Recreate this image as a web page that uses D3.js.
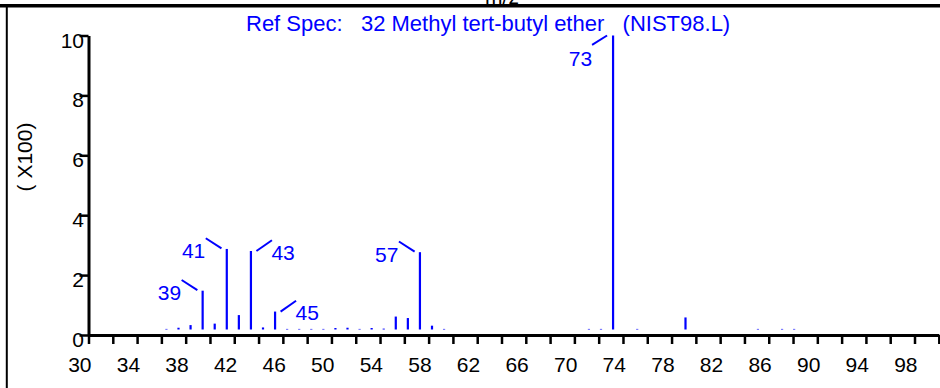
<!DOCTYPE html>
<html lang="en">
<head>
  <meta charset="utf-8"/>
  <title>Ref Spec: 32 Methyl tert-butyl ether</title>
  <script src="https://cdn.jsdelivr.net/npm/d3@7/dist/d3.min.js"></script>
  <style>
    html, body { margin:0; padding:0; background:#fff; overflow:hidden; }
    svg { display:block; font-family:"Liberation Sans", Arial, sans-serif; }
    .axis path, .axis line { stroke:#000; }
    .axis text { fill:#000; font-size:21px; font-family:"Liberation Sans", Arial, sans-serif; }
  </style>
</head>
<body>
<svg width="940" height="388"></svg>
<script>
  // spectrum data (m/z, abundance out of 1000)
  const mzValues   = [36, 37, 38, 39, 40, 41, 42, 43, 44, 45, 46, 47, 48, 49, 50, 51,
                      52, 53, 54, 55, 56, 57, 58, 59, 71, 72, 73, 75, 79, 85, 87, 88];
  const abundances = [2, 6, 15, 132, 20, 274, 49, 267, 7, 61, 2, 2, 2, 2, 5, 6,
                      2, 5, 3, 44, 39, 263, 13, 2, 2, 2, 1000, 2, 41, 2, 2, 2];

  // labelled peaks and where their label sits
  const peakLabels = [39, 41, 43, 45, 57, 73];
  const labelSides = ["left", "left", "right", "right", "left", "below"];

  // axis ticks
  const xTicks      = d3.range(30, 101, 2);
  const xTickLabels = d3.range(30, 99, 4);
  const yTicks      = [0, 200, 400, 600, 800, 1000];
  const yTickLabels = ["0", "2", "4", "6", "8", "10"];

  const title  = "Ref Spec:   32 Methyl tert-butyl ether   (NIST98.L)";
  const yTitle = "( X100)";
  const blue   = "#0000ff";

  const svg = d3.select("svg");

  const x    = d3.scaleLinear().domain([30, 100]).range([88.5, 938.8]);
  const y    = d3.scaleLinear().domain([0, 1000]).range([335, 35.5]);
  // sticks are drawn slightly right of / above the axis origin
  const xBar = d3.scaleLinear().domain([30, 100]).range([94, 939]);
  const yBar = d3.scaleLinear().domain([0, 1000]).range([329.5, 35.5]);

  // frame: cut-off "m/z" header, thick top rule, left border
  svg.append("text")
    .attr("x", 502).attr("y", 4)
    .attr("text-anchor", "middle")
    .style("font-size", "21px")
    .text("m/z");
  svg.append("line")
    .attr("x1", 0).attr("x2", 940).attr("y1", 5.7).attr("y2", 5.7)
    .attr("stroke", "#000").attr("stroke-width", 3.5);
  svg.append("line")
    .attr("x1", 6.8).attr("x2", 6.8).attr("y1", 5).attr("y2", 388)
    .attr("stroke", "#000").attr("stroke-width", 2);

  // title
  svg.append("text")
    .attr("x", 246).attr("y", 30.5)
    .attr("fill", blue)
    .style("font-size", "22px")
    .style("white-space", "pre")
    .text(title);

  // y axis
  const yAxis = svg.append("g")
    .attr("class", "axis")
    .attr("transform", `translate(${x(30)},0)`)
    .call(d3.axisLeft(y).tickValues(yTicks).tickSize(9).tickSizeOuter(0)
      .tickFormat((d, i) => yTickLabels[i]));
  yAxis.select(".domain").attr("stroke-width", 3);
  yAxis.selectAll(".tick line").attr("stroke-width", 2.5);
  yAxis.selectAll(".tick text")
    .attr("x", -4.5).attr("dy", 0).attr("y", 11.5)
    .attr("text-anchor", "end");

  // x axis
  const xAxis = svg.append("g")
    .attr("class", "axis")
    .attr("transform", `translate(0,${y(0)})`)
    .call(d3.axisBottom(x).tickValues(xTicks).tickSize(9).tickSizeOuter(0)
      .tickFormat(d => xTickLabels.includes(d) ? d : ""));
  xAxis.select(".domain").attr("stroke-width", 3);
  xAxis.selectAll(".tick line").attr("stroke-width", 2.5);
  xAxis.selectAll(".tick text")
    .attr("text-anchor", "end")
    .attr("x", 2.5).attr("y", 37).attr("dy", 0);

  // y axis title
  svg.append("text")
    .attr("transform", "translate(32,157) rotate(-90)")
    .attr("text-anchor", "middle")
    .style("font-size", "21px")
    .style("white-space", "pre")
    .text(yTitle);

  // sticks
  const peaks = mzValues.map((mz, i) => ({ mz, v: abundances[i] }));
  svg.append("g").selectAll("rect")
    .data(peaks)
    .join("rect")
      .attr("x", d => xBar(d.mz) - 1.1)
      .attr("width", 2.2)
      .attr("y", d => yBar(d.v))
      .attr("height", d => yBar(0) - yBar(d.v))
      .attr("fill", blue);

  // peak labels with leader lines
  const labs = peakLabels.map((mz, i) => {
    const p = peaks.find(d => d.mz === mz);
    return { mz, side: labelSides[i], bx: xBar(mz), top: yBar(p.v) };
  });
  const lg = svg.append("g").attr("fill", blue).style("font-size", "21px");
  labs.forEach(d => {
    let l, t;
    if (d.side === "left") {
      l = [d.bx - 21, d.top - 10.7, d.bx - 5.3, d.top - 0.5];
      t = { x: d.bx - 21.5, y: d.top + 9.5, a: "end" };
    } else if (d.side === "right") {
      l = [d.bx + 5.5, d.top, d.bx + 21, d.top - 10.8];
      t = { x: d.bx + 20.5, y: d.top + 8.5, a: "start" };
    } else {
      l = [d.bx - 21, d.top + 9.3, d.bx - 6, d.top];
      t = { x: d.bx - 21, y: d.top + 30, a: "end" };
    }
    lg.append("line")
      .attr("x1", l[0]).attr("y1", l[1]).attr("x2", l[2]).attr("y2", l[3])
      .attr("stroke", blue).attr("stroke-width", 2);
    lg.append("text")
      .attr("x", t.x).attr("y", t.y)
      .attr("text-anchor", t.a)
      .text(d.mz);
  });
</script>
</body>
</html>
